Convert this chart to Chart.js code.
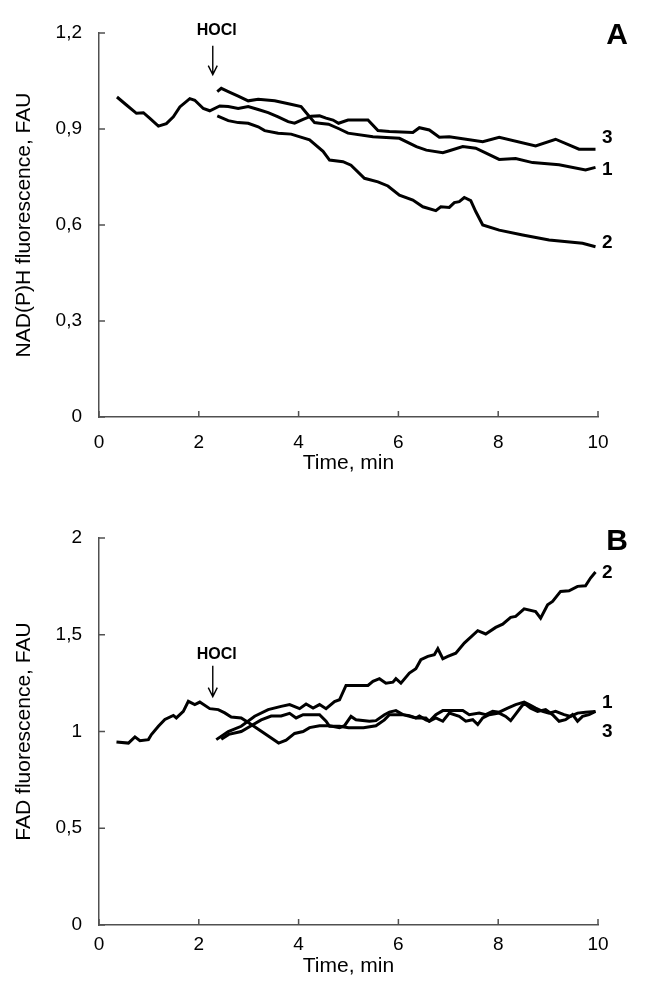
<!DOCTYPE html>
<html>
<head>
<meta charset="utf-8">
<script src="https://cdn.jsdelivr.net/npm/chart.js@4.4.1/dist/chart.umd.min.js"></script>
<style>
  body { margin: 0; background: #fff; }
  canvas { display: block; }
</style>
</head>
<body>
<canvas id="chartA" width="661" height="497"></canvas>
<canvas id="chartB" width="661" height="497"></canvas>
<script>
// --- panel A: NAD(P)H fluorescence ---
const aTime1 = [2.37, 2.45, 2.59, 2.79, 2.99, 3.19, 3.52, 3.82, 4.05, 4.19, 4.32, 4.42, 4.6, 4.82, 4.99, 5.49, 6.02, 6.36, 6.56, 6.89, 7.02, 7.29, 7.55, 8.02, 8.35, 8.69, 9.22, 9.75, 9.95];
const aValue1 = [1.017, 1.027, 1.017, 1.003, 0.988, 0.993, 0.988, 0.978, 0.97, 0.944, 0.92, 0.918, 0.915, 0.9, 0.887, 0.876, 0.871, 0.845, 0.834, 0.826, 0.832, 0.845, 0.84, 0.805, 0.808, 0.795, 0.788, 0.772, 0.78];

const aTime2 = [2.37, 2.59, 2.79, 2.99, 3.19, 3.32, 3.59, 3.85, 4.22, 4.49, 4.62, 4.89, 5.05, 5.32, 5.59, 5.79, 6.02, 6.29, 6.49, 6.75, 6.85, 7.02, 7.12, 7.22, 7.32, 7.45, 7.55, 7.69, 8.02, 8.49, 9.02, 9.69, 9.95];
const aValue2 = [0.941, 0.926, 0.92, 0.918, 0.907, 0.895, 0.887, 0.884, 0.866, 0.83, 0.803, 0.798, 0.787, 0.746, 0.735, 0.722, 0.693, 0.678, 0.657, 0.645, 0.657, 0.655, 0.67, 0.673, 0.686, 0.676, 0.642, 0.6, 0.584, 0.569, 0.553, 0.543, 0.532];

const aTime3 = [0.36, 0.55, 0.75, 0.89, 1.02, 1.19, 1.35, 1.49, 1.62, 1.82, 1.92, 2.09, 2.22, 2.42, 2.59, 2.79, 2.99, 3.19, 3.39, 3.59, 3.79, 3.92, 4.09, 4.25, 4.42, 4.55, 4.69, 4.8, 4.99, 5.39, 5.59, 5.82, 6.29, 6.42, 6.62, 6.82, 7.02, 7.69, 8.02, 8.75, 9.15, 9.62, 9.95];
const aValue3 = [1.0, 0.975, 0.949, 0.951, 0.933, 0.909, 0.917, 0.938, 0.969, 0.995, 0.99, 0.964, 0.957, 0.972, 0.97, 0.964, 0.97, 0.961, 0.951, 0.938, 0.923, 0.918, 0.93, 0.94, 0.941, 0.934, 0.928, 0.918, 0.928, 0.928, 0.895, 0.892, 0.889, 0.904, 0.897, 0.874, 0.876, 0.86, 0.874, 0.847, 0.868, 0.837, 0.837];

// --- panel B: FAD fluorescence ---
const bTime1 = [0.35, 0.59, 0.72, 0.82, 0.99, 1.05, 1.19, 1.32, 1.49, 1.55, 1.69, 1.79, 1.92, 2.02, 2.22, 2.39, 2.52, 2.65, 2.85, 3.0, 3.2, 3.4, 3.6, 3.75, 3.92, 4.09, 4.22, 4.42, 4.62, 4.82, 4.92, 5.05, 5.15, 5.42, 5.55, 5.72, 5.82, 5.95, 6.09, 6.22, 6.35, 6.42, 6.55, 6.62, 6.75, 6.89, 7.02, 7.29, 7.42, 7.62, 7.75, 7.89, 8.02, 8.19, 8.35, 8.52, 8.62, 8.75, 8.89, 9.02, 9.15, 9.32, 9.45, 9.59, 9.75, 9.95];
const bValue1 = [0.946, 0.94, 0.972, 0.952, 0.958, 0.984, 1.027, 1.062, 1.083, 1.07, 1.104, 1.156, 1.139, 1.152, 1.118, 1.113, 1.096, 1.075, 1.07, 1.045, 1.01, 0.975, 0.94, 0.955, 0.99, 1.0, 1.02, 1.03, 1.03, 1.02, 1.03, 1.078, 1.061, 1.053, 1.056, 1.087, 1.1, 1.108, 1.087, 1.082, 1.07, 1.08, 1.06, 1.053, 1.087, 1.108, 1.108, 1.108, 1.087, 1.095, 1.087, 1.104, 1.1, 1.121, 1.139, 1.152, 1.139, 1.121, 1.104, 1.095, 1.104, 1.087, 1.078, 1.095, 1.1, 1.104];

const bTime2 = [2.35, 2.59, 2.85, 3.12, 3.39, 3.65, 3.82, 4.02, 4.15, 4.29, 4.42, 4.55, 4.72, 4.82, 4.95, 5.39, 5.49, 5.62, 5.75, 5.89, 5.95, 6.05, 6.22, 6.35, 6.45, 6.59, 6.72, 6.79, 6.89, 6.99, 7.15, 7.32, 7.59, 7.75, 7.95, 8.09, 8.25, 8.35, 8.52, 8.75, 8.85, 8.99, 9.09, 9.25, 9.42, 9.59, 9.75, 9.85, 9.95];
const bValue2 = [0.958, 1.0, 1.027, 1.079, 1.113, 1.13, 1.139, 1.118, 1.142, 1.121, 1.139, 1.118, 1.155, 1.164, 1.238, 1.238, 1.259, 1.273, 1.25, 1.255, 1.273, 1.25, 1.302, 1.324, 1.371, 1.388, 1.397, 1.428, 1.376, 1.388, 1.405, 1.457, 1.521, 1.504, 1.538, 1.555, 1.59, 1.595, 1.634, 1.62, 1.586, 1.655, 1.672, 1.724, 1.727, 1.75, 1.753, 1.793, 1.824];

const bTime3 = [2.45, 2.6, 2.85, 3.05, 3.25, 3.45, 3.65, 3.82, 3.95, 4.09, 4.42, 4.55, 4.62, 4.82, 5.0, 5.3, 5.55, 5.72, 5.82, 6.09, 6.35, 6.55, 6.62, 6.75, 6.89, 7.02, 7.22, 7.35, 7.49, 7.59, 7.69, 7.82, 8.02, 8.15, 8.25, 8.35, 8.45, 8.52, 8.65, 8.79, 8.95, 9.09, 9.22, 9.35, 9.49, 9.59, 9.69, 9.82, 9.95];
const bValue3 = [0.96, 0.985, 1.0, 1.03, 1.06, 1.08, 1.08, 1.094, 1.07, 1.087, 1.087, 1.053, 1.027, 1.027, 1.02, 1.02, 1.03, 1.06, 1.087, 1.087, 1.07, 1.07, 1.053, 1.07, 1.053, 1.095, 1.078, 1.053, 1.061, 1.036, 1.07, 1.087, 1.095, 1.078, 1.056, 1.09, 1.124, 1.146, 1.121, 1.104, 1.113, 1.087, 1.053, 1.061, 1.087, 1.053, 1.078, 1.087, 1.104];

const xTicks = [0, 2, 4, 6, 8, 10];
const aTicks = [0, 0.3, 0.6, 0.9, 1.2];
const bTicks = [0, 0.5, 1, 1.5, 2];

const FONT = 'Arial, "Liberation Sans", sans-serif';
const AXIS = '#505050';

function pts(ts, vs) {
    return ts.map((t, i) => ({ x: t, y: vs[i] }));
}

function commaNum(v) {
    return String(Math.round(v * 10) / 10).replace('.', ',');
}

// inward ticks, HOCl arrow, curve numbers and panel letter
const decor = {
    id: 'decor',
    afterDraw(chart, args, opts) {
        const { ctx, chartArea } = chart;
        const xs = chart.scales.x, ys = chart.scales.y;
        ctx.save();
        ctx.strokeStyle = AXIS;
        ctx.lineWidth = 1.5;
        ctx.beginPath();
        xTicks.forEach(t => {
            const px = xs.getPixelForValue(t);
            ctx.moveTo(px, chartArea.bottom);
            ctx.lineTo(px, chartArea.bottom - 6);
        });
        opts.yTicks.forEach(v => {
            const py = ys.getPixelForValue(v);
            ctx.moveTo(chartArea.left, py);
            ctx.lineTo(chartArea.left + 6, py);
        });
        ctx.stroke();

        // HOCl arrow
        const h = opts.hocl;
        const ax = xs.getPixelForValue(h.t);
        ctx.fillStyle = '#000';
        ctx.font = 'bold 16px ' + FONT;
        ctx.textAlign = 'center';
        ctx.textBaseline = 'middle';
        ctx.fillText('HOCl', ax + 4, ys.getPixelForValue(h.vText));
        const y0 = ys.getPixelForValue(h.vFrom), y1 = ys.getPixelForValue(h.vTo);
        ctx.strokeStyle = '#000';
        ctx.lineWidth = 1.4;
        ctx.beginPath();
        ctx.moveTo(ax, y0);
        ctx.lineTo(ax, y1);
        ctx.moveTo(ax - 4.5, y1 - 9);
        ctx.lineTo(ax, y1);
        ctx.lineTo(ax + 4.5, y1 - 9);
        ctx.stroke();

        // curve numbers
        ctx.font = 'bold 19px ' + FONT;
        ctx.textAlign = 'left';
        opts.labels.forEach(l => {
            ctx.fillText(l.text, xs.getPixelForValue(10.08), ys.getPixelForValue(l.v));
        });

        // panel letter
        ctx.font = 'bold 30px ' + FONT;
        ctx.textAlign = 'center';
        ctx.fillText(opts.letter, xs.getPixelForValue(10.38), ys.getPixelForValue(opts.letterV));
        ctx.restore();
    }
};

function lineSet(data) {
    return {
        data: data,
        borderColor: '#000',
        borderWidth: 3,
        pointRadius: 0,
        tension: 0,
        fill: false
    };
}

function makeChart(id, cfg) {
    return new Chart(document.getElementById(id), {
        type: 'line',
        data: { datasets: cfg.sets.map(lineSet) },
        options: {
            responsive: false,
            animation: false,
            layout: { padding: { left: 0, right: 63, top: cfg.padTop, bottom: 0 } },
            plugins: {
                legend: { display: false },
                tooltip: { enabled: false },
                decor: cfg.decor
            },
            scales: {
                x: {
                    type: 'linear',
                    min: 0,
                    max: 10,
                    afterBuildTicks: s => { s.ticks = xTicks.map(v => ({ value: v })); },
                    afterFit: s => { s.height = cfg.xHeight; },
                    grid: { display: false, drawTicks: false },
                    border: { display: true, color: AXIS, width: 1.5 },
                    ticks: { color: '#000', padding: cfg.tickPad, font: { family: FONT, size: 19 }, maxRotation: 0 },
                    title: {
                        display: true,
                        text: 'Time, min',
                        color: '#000',
                        font: { family: FONT, size: 21 },
                        padding: { top: 0, bottom: cfg.titlePad }
                    }
                },
                y: {
                    type: 'linear',
                    min: 0,
                    max: cfg.yMax,
                    afterBuildTicks: s => { s.ticks = cfg.yTicks.map(v => ({ value: v })); },
                    afterFit: s => { s.width = 99; },
                    grid: { display: false, drawTicks: false },
                    border: { display: true, color: AXIS, width: 1.5 },
                    ticks: { color: '#000', padding: 17, font: { family: FONT, size: 19 }, callback: v => commaNum(v) },
                    title: {
                        display: true,
                        text: cfg.yTitle,
                        color: '#000',
                        font: { family: FONT, size: 21 },
                        padding: { top: 12, bottom: 0 }
                    }
                }
            }
        },
        plugins: [decor]
    });
}

makeChart('chartA', {
    sets: [pts(aTime1, aValue1), pts(aTime2, aValue2), pts(aTime3, aValue3)],
    yMax: 1.2,
    yTicks: aTicks,
    yTitle: 'NAD(P)H fluorescence, FAU',
    padTop: 33,
    xHeight: 80,
    tickPad: 14,
    titlePad: 21,
    decor: {
        yTicks: aTicks,
        hocl: { t: 2.28, vText: 1.208, vFrom: 1.16, vTo: 1.07 },
        labels: [{ text: '3', v: 0.872 }, { text: '1', v: 0.772 }, { text: '2', v: 0.544 }],
        letter: 'A',
        letterV: 1.19
    }
});

makeChart('chartB', {
    sets: [pts(bTime1, bValue1), pts(bTime2, bValue2), pts(bTime3, bValue3)],
    yMax: 2,
    yTicks: bTicks,
    yTitle: 'FAD fluorescence, FAU',
    padTop: 41,
    xHeight: 69,
    tickPad: 8,
    titlePad: 15,
    decor: {
        yTicks: bTicks,
        hocl: { t: 2.28, vText: 1.4, vFrom: 1.34, vTo: 1.18 },
        labels: [{ text: '2', v: 1.82 }, { text: '1', v: 1.15 }, { text: '3', v: 1.0 }],
        letter: 'B',
        letterV: 1.98
    }
});
</script>
</body>
</html>
